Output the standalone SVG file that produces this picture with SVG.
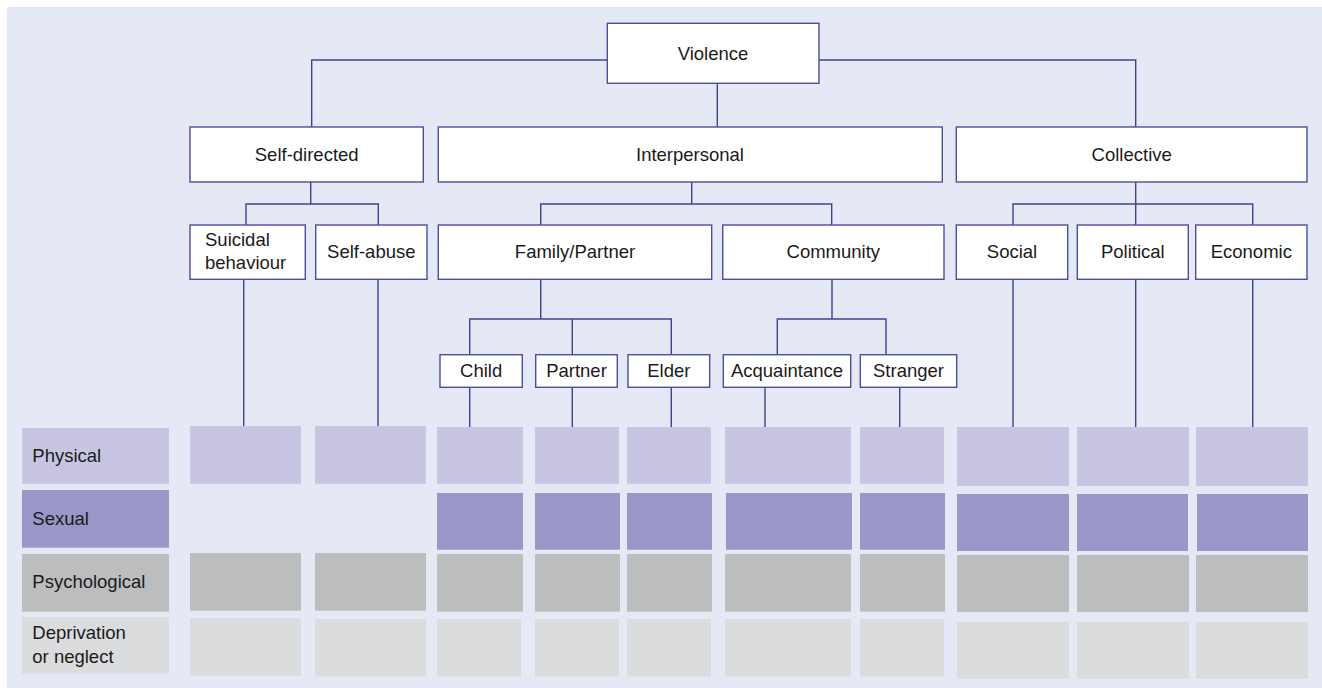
<svg xmlns="http://www.w3.org/2000/svg" width="1322" height="688" viewBox="0 0 1322 688">
<style>
.box{fill:#ffffff;stroke:#4a4f9c;stroke-width:1.4}
.lbl{font-family:"Liberation Sans",Arial,sans-serif;font-size:18.5px;fill:#1a1a1a;text-anchor:middle}
.leg{font-family:"Liberation Sans",Arial,sans-serif;font-size:18.5px;fill:#1a1a1a}
.con{fill:none;stroke:#3f4393;stroke-width:1.4}
.phy{fill:#c7c5e1}
.sex{fill:#9996c8}
.psy{fill:#bcbdbf}
.dep{fill:#dbdcde}
</style>
<rect x="7" y="7" width="1315" height="681" fill="#e4e9f5"/>
<g id="connectors">
<path class="con" d="M311.7 127 V60 H1135.7 V127"/>
<path class="con" d="M717.3 83 V127"/>
<path class="con" d="M310.7 182 V204 M246 225 V204 H378.3 V225"/>
<path class="con" d="M691.7 182 V204 M540.7 225 V204 H831.7 V225"/>
<path class="con" d="M1135.7 182 V225 M1013 225 V204 H1252.7 V225"/>
<path class="con" d="M540.7 279 V319 M469.7 355 V319 H671.3 V355 M572.3 319 V355"/>
<path class="con" d="M832 279 V319 M777.3 355 V319 H886 V355"/>
<path class="con" d="M243.7 279 V427 M378 279 V427 M1013 279 V427 M1135.7 279 V427 M1252.7 279 V427"/>
<path class="con" d="M469.7 387 V427 M572.3 387 V427 M671.3 387 V427 M765 387 V427 M899.7 387 V427"/>
</g>
<g id="violence"><rect class="box" x="607.3" y="23.3" width="211.7" height="60"/><text class="lbl" x="713" y="59.5">Violence</text></g>
<g id="self-directed"><rect class="box" x="190" y="127" width="233.3" height="55"/><text class="lbl" x="306.7" y="160.5">Self-directed</text></g>
<g id="interpersonal"><rect class="box" x="438.3" y="127" width="504" height="55"/><text class="lbl" x="690" y="160.5">Interpersonal</text></g>
<g id="collective"><rect class="box" x="956.3" y="127" width="350.7" height="55"/><text class="lbl" x="1131.7" y="160.5">Collective</text></g>
<g id="suicidal"><rect class="box" x="190" y="225" width="115.3" height="54.3"/><text class="leg" x="205" y="246">Suicidal</text><text class="leg" x="205" y="269.3">behaviour</text></g>
<g id="self-abuse"><rect class="box" x="315.7" y="225" width="111.3" height="54.3"/><text class="lbl" x="371.3" y="258">Self-abuse</text></g>
<g id="family-partner"><rect class="box" x="438.3" y="225" width="273.4" height="54.3"/><text class="lbl" x="575" y="258">Family/Partner</text></g>
<g id="community"><rect class="box" x="722.7" y="225" width="221.3" height="54.3"/><text class="lbl" x="833.3" y="258">Community</text></g>
<g id="social"><rect class="box" x="956.3" y="225" width="111.4" height="54.3"/><text class="lbl" x="1012" y="258">Social</text></g>
<g id="political"><rect class="box" x="1077.3" y="225" width="111" height="54.3"/><text class="lbl" x="1132.8" y="258">Political</text></g>
<g id="economic"><rect class="box" x="1195.7" y="225" width="111.3" height="54.3"/><text class="lbl" x="1251.3" y="258">Economic</text></g>
<g id="child"><rect class="box" x="440" y="354.7" width="82.3" height="32.6"/><text class="lbl" x="481.2" y="377.3">Child</text></g>
<g id="partner"><rect class="box" x="535.7" y="354.7" width="81.6" height="32.6"/><text class="lbl" x="576.5" y="377.3">Partner</text></g>
<g id="elder"><rect class="box" x="628" y="354.7" width="81.7" height="32.6"/><text class="lbl" x="668.8" y="377.3">Elder</text></g>
<g id="acquaintance"><rect class="box" x="723.3" y="354.7" width="127.4" height="32.6"/><text class="lbl" x="787" y="377.3">Acquaintance</text></g>
<g id="stranger"><rect class="box" x="860.3" y="354.7" width="96.4" height="32.6"/><text class="lbl" x="908.5" y="377.3">Stranger</text></g>
<g id="legend">
<rect class="phy" x="22" y="428" width="147" height="55.7"/><text class="leg" x="32.3" y="462">Physical</text>
<rect class="sex" x="22" y="490" width="147" height="57.7"/><text class="leg" x="32.3" y="525.3">Sexual</text>
<rect class="psy" x="22" y="554" width="147" height="57.7"/><text class="leg" x="32.3" y="588">Psychological</text>
<rect class="dep" x="22" y="617" width="147" height="56.7"/><text class="leg" x="32.3" y="639">Deprivation</text><text class="leg" x="32.3" y="662.5">or neglect</text>
</g>
<g id="grid">
<rect class="phy" x="190" y="426" width="111" height="57.7"/>
<rect class="psy" x="190" y="553" width="111" height="57.7"/>
<rect class="dep" x="190" y="618" width="111" height="57.7"/>
<rect class="phy" x="315" y="426" width="111" height="57.7"/>
<rect class="psy" x="315" y="553" width="111" height="57.7"/>
<rect class="dep" x="315" y="619" width="111" height="57.7"/>
<rect class="phy" x="437" y="427" width="86" height="56.7"/>
<rect class="sex" x="437" y="493" width="86" height="56.7"/>
<rect class="psy" x="437" y="554" width="86" height="57.7"/>
<rect class="dep" x="437" y="619" width="84" height="57.7"/>
<rect class="phy" x="535" y="427" width="84" height="56.7"/>
<rect class="sex" x="535" y="493" width="85" height="56.7"/>
<rect class="psy" x="535" y="554" width="85" height="57.7"/>
<rect class="dep" x="535" y="619" width="84" height="57.7"/>
<rect class="phy" x="627" y="427" width="84" height="56.7"/>
<rect class="sex" x="627" y="493" width="85" height="56.7"/>
<rect class="psy" x="627" y="554" width="85" height="57.7"/>
<rect class="dep" x="627" y="619" width="84" height="57.7"/>
<rect class="phy" x="725" y="427" width="126" height="56.7"/>
<rect class="sex" x="726" y="493" width="126" height="56.7"/>
<rect class="psy" x="725" y="554" width="126" height="57.7"/>
<rect class="dep" x="725" y="619" width="126" height="57.7"/>
<rect class="phy" x="860" y="427" width="84" height="56.7"/>
<rect class="sex" x="860" y="493" width="85" height="56.7"/>
<rect class="psy" x="860" y="554" width="85" height="57.7"/>
<rect class="dep" x="860" y="619" width="84" height="57.7"/>
<rect class="phy" x="957" y="427" width="112" height="59"/>
<rect class="sex" x="957" y="494" width="112" height="57"/>
<rect class="psy" x="957" y="555" width="112" height="57"/>
<rect class="dep" x="957" y="622" width="112" height="57"/>
<rect class="phy" x="1077" y="427" width="112" height="59"/>
<rect class="sex" x="1077" y="494" width="111" height="57"/>
<rect class="psy" x="1077" y="555" width="112" height="57"/>
<rect class="dep" x="1077" y="622" width="112" height="57"/>
<rect class="phy" x="1196" y="427" width="112" height="59"/>
<rect class="sex" x="1197" y="494" width="111" height="57"/>
<rect class="psy" x="1196" y="555" width="112" height="57"/>
<rect class="dep" x="1196" y="622" width="112" height="57"/>
</g>
</svg>
